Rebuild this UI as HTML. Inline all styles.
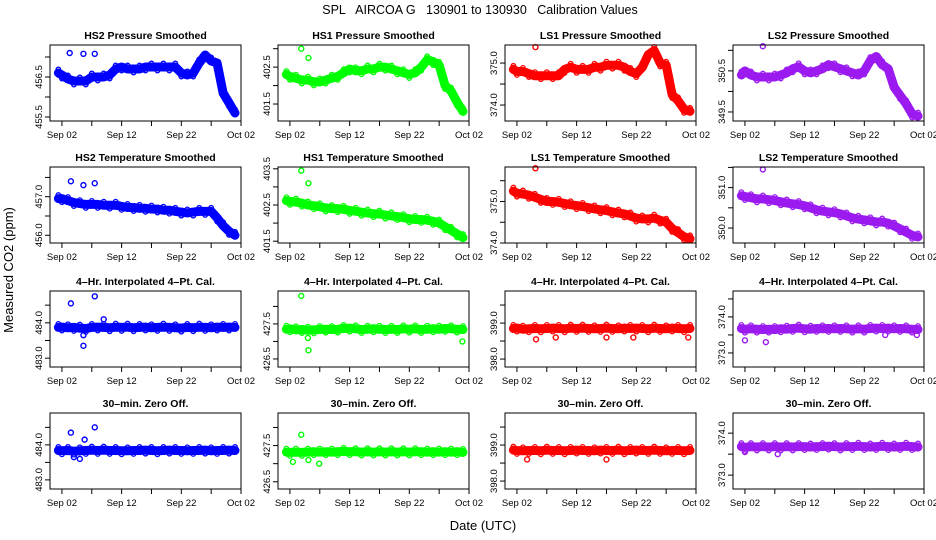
<!DOCTYPE html>
<html><head><meta charset="utf-8">
<style>
html,body{margin:0;padding:0;background:#fff;}
svg{display:block;font-family:"Liberation Sans",sans-serif;}
</style></head>
<body>
<svg id="chart" width="936" height="540" viewBox="0 0 936 540">
<text x="480" y="14" text-anchor="middle" font-size="12.5" xml:space="preserve" style="white-space:pre">SPL   AIRCOA G   130901 to 130930   Calibration Values</text>
<text transform="translate(13,270) rotate(-90)" text-anchor="middle" font-size="13">Measured CO2 (ppm)</text>
<text x="483" y="530" text-anchor="middle" font-size="13">Date (UTC)</text>
</svg>
<script>
const days = [-0.6,0,1,2,3,4,5,6,7,8,9,10,11,12,13,14,15,16,17,18,19,20,21,22,23,24,25,26,27,28,29];
const xTickDays = [0,5,10,15,20,25,30];
const xTickLabels = {0:"Sep 02",10:"Sep 12",20:"Sep 22",30:"Oct 02"};

const titles = ["HS2 Pressure Smoothed","HS1 Pressure Smoothed","LS1 Pressure Smoothed","LS2 Pressure Smoothed",
"HS2 Temperature Smoothed","HS1 Temperature Smoothed","LS1 Temperature Smoothed","LS2 Temperature Smoothed",
"4\u2013Hr. Interpolated 4\u2013Pt. Cal.","4\u2013Hr. Interpolated 4\u2013Pt. Cal.","4\u2013Hr. Interpolated 4\u2013Pt. Cal.","4\u2013Hr. Interpolated 4\u2013Pt. Cal.",
"30\u2013min. Zero Off.","30\u2013min. Zero Off.","30\u2013min. Zero Off.","30\u2013min. Zero Off."];

const hs2Pressure = [456.6,456.55,456.45,456.4,456.4,456.4,456.5,456.5,456.5,456.55,456.7,456.75,456.7,456.7,456.7,456.75,456.75,456.75,456.75,456.75,456.75,456.6,456.55,456.6,456.85,457.05,456.9,456.85,456.1,455.85,455.6];
const hs1Pressure = [402.3,402.25,402.2,402.15,402.15,402.1,402.1,402.15,402.2,402.25,402.35,402.45,402.4,402.4,402.45,402.45,402.5,402.5,402.45,402.4,402.35,402.3,402.35,402.5,402.7,402.65,402.55,402.0,401.85,401.55,401.3];
const ls1Pressure = [374.85,374.8,374.8,374.75,374.7,374.7,374.7,374.7,374.7,374.85,374.9,374.85,374.85,374.85,374.9,374.9,374.95,374.95,374.95,374.9,374.8,374.75,374.9,375.2,375.3,375.0,374.95,374.25,374.1,373.9,373.85];
const ls2Pressure = [350.4,350.5,350.4,350.35,350.35,350.35,350.35,350.4,350.45,350.55,350.6,350.5,350.45,350.5,350.55,350.65,350.6,350.55,350.5,350.45,350.4,350.5,350.75,350.85,350.65,350.55,350.1,349.9,349.7,349.45,349.4];
const hs2Temp = [456.95,456.95,456.9,456.85,456.82,456.8,456.8,456.8,456.78,456.78,456.78,456.75,456.72,456.72,456.7,456.7,456.68,456.68,456.65,456.65,456.62,456.6,456.58,456.6,456.62,456.62,456.62,456.45,456.25,456.1,456.0];
const hs1Temp = [402.62,402.6,402.58,402.55,402.5,402.48,402.45,402.42,402.4,402.4,402.38,402.35,402.33,402.3,402.28,402.26,402.25,402.22,402.2,402.18,402.15,402.12,402.1,402.1,402.08,402.05,402.0,401.9,401.8,401.7,401.6];
const ls1Temp = [375.25,375.2,375.18,375.15,375.1,375.05,375.0,375.0,374.98,374.95,374.92,374.9,374.88,374.85,374.82,374.8,374.78,374.75,374.72,374.7,374.65,374.6,374.58,374.58,374.6,374.55,374.5,374.35,374.25,374.15,374.1];
const ls2Temp = [350.8,350.78,350.75,350.72,350.72,350.7,350.68,350.65,350.62,350.6,350.58,350.55,350.5,350.45,350.42,350.4,350.38,350.35,350.3,350.25,350.22,350.2,350.18,350.15,350.15,350.12,350.05,349.98,349.9,349.82,349.78];
const hs2Cal = [483.87,483.88,483.86,483.87,483.85,483.84,483.87,483.88,483.87,483.86,483.88,483.87,483.88,483.86,483.87,483.88,483.86,483.87,483.88,483.87,483.86,483.85,483.87,483.86,483.88,483.87,483.86,483.88,483.87,483.88,483.87];
const hs1Cal = [427.35,427.36,427.33,427.34,427.32,427.33,427.34,427.35,427.34,427.35,427.37,427.38,427.36,427.34,427.35,427.36,427.35,427.34,427.35,427.34,427.36,427.35,427.36,427.34,427.35,427.36,427.35,427.37,427.36,427.35,427.34];
const ls1Cal = [398.85,398.86,398.83,398.84,398.85,398.84,398.85,398.86,398.85,398.84,398.86,398.85,398.86,398.85,398.84,398.85,398.86,398.85,398.84,398.86,398.85,398.86,398.85,398.84,398.86,398.85,398.84,398.86,398.85,398.84,398.85];
const ls2Cal = [373.68,373.66,373.67,373.66,373.65,373.66,373.65,373.67,373.66,373.68,373.69,373.67,373.66,373.68,373.67,373.68,373.67,373.68,373.67,373.66,373.67,373.66,373.68,373.69,373.68,373.69,373.67,373.68,373.67,373.66,373.65];
const hs2Zero = [483.84,483.83,483.84,483.82,483.83,483.84,483.85,483.84,483.85,483.84,483.84,483.83,483.83,483.84,483.84,483.85,483.84,483.83,483.84,483.85,483.84,483.84,483.83,483.84,483.84,483.85,483.83,483.84,483.84,483.85,483.84];
const hs1Zero = [427.32,427.31,427.32,427.31,427.32,427.33,427.32,427.33,427.32,427.33,427.34,427.33,427.33,427.32,427.33,427.32,427.33,427.32,427.33,427.32,427.33,427.32,427.33,427.33,427.32,427.33,427.32,427.33,427.32,427.33,427.31];
const ls1Zero = [398.86,398.85,398.84,398.85,398.85,398.84,398.86,398.85,398.85,398.84,398.85,398.86,398.85,398.85,398.84,398.86,398.85,398.85,398.86,398.84,398.85,398.86,398.85,398.85,398.86,398.85,398.84,398.85,398.85,398.84,398.85];
const ls2Zero = [373.68,373.66,373.68,373.67,373.68,373.67,373.68,373.67,373.68,373.67,373.68,373.68,373.67,373.68,373.68,373.69,373.68,373.67,373.68,373.68,373.69,373.68,373.67,373.68,373.69,373.68,373.67,373.68,373.69,373.68,373.67];

const seriesValues = [hs2Pressure,hs1Pressure,ls1Pressure,ls2Pressure,hs2Temp,hs1Temp,ls1Temp,ls2Temp,hs2Cal,hs1Cal,ls1Cal,ls2Cal,hs2Zero,hs1Zero,ls1Zero,ls2Zero];

const outlierDays = [[1.3,3.6,5.5],[1.9,3.1],[3.1],[3.0],[1.5,3.6,5.5],[1.9,3.1],[3.1],[3.0],
 [1.5,3.6,3.6,5.5,7],[1.9,3.1,3.0,28.9],[3.2,6.5,15,19.5,28.7],[0,3.5,23.5,28.8],
 [1.5,2.0,3.0,5.5,3.8],[1.9,0.5,3.1,4.9],[1.7,15],[5.5,0]];
const outlierValues = [[457.1,457.08,457.08],[403.0,402.75],[375.38],[351.1],[457.4,457.3,457.35],[403.45,403.1],[375.8],[351.45],
 [484.55,483.35,483.65,484.75,484.1],[428.3,426.75,427.1,427.0],[398.55,398.6,398.6,398.6,398.6],[373.35,373.3,373.5,373.5],
 [484.35,483.65,483.6,484.5,484.15],[427.8,427.05,427.1,427.0],[398.6,398.6],[373.5,373.55]];

const yMins = [455.4,401.04,373.62,349.28,455.8,401.45,374.0,349.63,482.75,426.27,397.78,372.61,482.74,426.3,397.78,372.67];
const yMaxs = [457.3,403.1,375.43,351.13,457.77,403.55,375.83,351.51,484.9,428.44,399.89,374.72,484.91,428.4,399.89,374.48];
const labelBases = [455.5,401.5,374,349.5,456,401.5,374,350,483,426.5,398,373,483,426.5,398,373];

const colors = ["#0000ff","#00ff00","#ff0000","#9a1af0"];
const colX = [50,278,505,733], rowY = [45,167,291,413], W = 191, H = 76;
const xMin = -2, xMax = 30;
const NS = "http://www.w3.org/2000/svg";
const svg = document.getElementById("chart");
function mk(tag, attrs, parent){ const e=document.createElementNS(NS,tag); for(const k in attrs) e.setAttribute(k,attrs[k]); parent.appendChild(e); return e; }

for(let p=0;p<16;p++){
  const r=Math.floor(p/4), c=p%4, x0=colX[c], y0=rowY[r];
  const g=mk("g",{},svg);
  
  
  const xs=d=>x0+(d-xMin)/(xMax-xMin)*W;
  const ys=v=>y0+H-(v-yMins[p])/(yMaxs[p]-yMins[p])*H;
  const col=colors[c];
  const t=mk("text",{x:x0+W/2,y:y0-6,"text-anchor":"middle","font-size":"10.5","font-weight":"bold"},g);
  t.textContent=titles[p];
  
  
  const pts=days.map((d,i)=>xs(d).toFixed(1)+","+ys(seriesValues[p][i]).toFixed(1)).join(" ");
  const band=mk("polyline",{points:pts,fill:"none",stroke:col,"stroke-width":"9","stroke-linejoin":"round","stroke-linecap":"round"},g);
  
  
  days.forEach((d,i)=>{
    const cc=mk("circle",{cx:xs(d),cy:ys(seriesValues[p][i])+((i%2)?3.5:-3.5),r:2.3,fill:"none",stroke:col,"stroke-width":"1.3"},g);
    
    
  });
  outlierDays[p].forEach((d,i)=>{
    const cc=mk("circle",{cx:xs(d),cy:ys(outlierValues[p][i]),r:2.5,fill:"none",stroke:col,"stroke-width":"1.4"},g);
    
    
  });
  const fr=mk("rect",{x:x0,y:y0,width:W,height:H,fill:"none",stroke:"#000","stroke-width":"1"},g);
  
  
  xTickDays.forEach(d=>{
    const x=xs(d);
    mk("line",{x1:x,y1:y0+H,x2:x,y2:y0+H+5,stroke:"#000"},g);
    if(xTickLabels[d]){
      const tl=mk("text",{x:x,y:y0+H+17,"text-anchor":"middle","font-size":"9.5"},g);
      tl.textContent=xTickLabels[d];
      
      
    }
  });
  const start=Math.ceil(yMins[p]*2)/2;
  for(let v=start; v<=yMaxs[p]+1e-9; v+=0.5){
    const y=ys(v);
    mk("line",{x1:x0-5,y1:y,x2:x0,y2:y,stroke:"#000"},g);
    const diff=Math.abs(v-labelBases[p]);
    if(Math.abs(diff-Math.round(diff))<1e-6){
      const yl=mk("text",{transform:"translate("+(x0-8)+","+y+") rotate(-90)","text-anchor":"middle","font-size":"9.5"},g);
      yl.textContent=v.toFixed(1);
      
      
    }
  }
}
</script>
</body></html>
